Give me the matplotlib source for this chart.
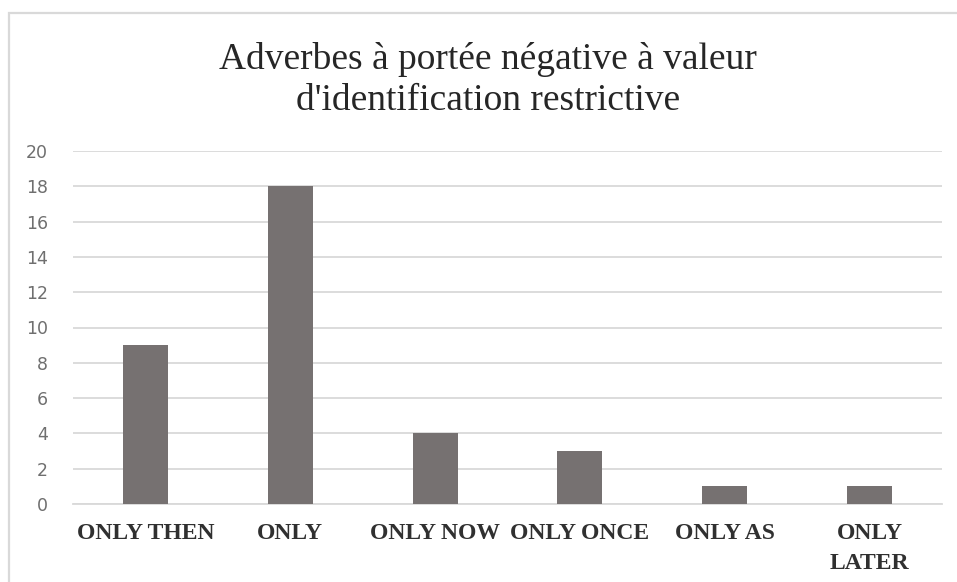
import matplotlib
matplotlib.use("Agg")
import matplotlib.pyplot as plt
from matplotlib.patches import Rectangle

categories = ["ONLY THEN", "ONLY", "ONLY NOW", "ONLY ONCE", "ONLY AS", "ONLY\nLATER"]
values = [9, 18, 4, 3, 1, 1]
yticks = [0, 2, 4, 6, 8, 10, 12, 14, 16, 18, 20]
title_lines = ["Adverbes à portée négative à valeur", "d'identification restrictive"]

W, H = 957, 582
fig = plt.figure(figsize=(W / 100, H / 100), dpi=100)
fig.patches.append(Rectangle((9 / W, -0.1), 1.2, 1 - 13 / H + 0.1, transform=fig.transFigure,
                             fill=False, edgecolor="#d9d9d9", linewidth=1.6))

ax = fig.add_axes([73 / W, (H - 504) / H, (942 - 73) / W, (504 - 151) / H])
x = list(range(len(categories)))
ax.bar(x, values, width=0.31, color="#767171", zorder=3)
ax.set_xlim(-0.5, len(categories) - 0.5)
ax.set_ylim(0, 20)
ax.set_yticks(yticks)
ax.set_yticklabels([str(t) for t in yticks], fontsize=12.5, color="#6f6f6f", family="DejaVu Sans")
ax.set_xticks(x)
ax.set_xticklabels(categories, fontsize=17, family="Liberation Serif", color="#303030",
                   linespacing=1.55, fontweight="bold")
ax.tick_params(axis="both", length=0)
ax.tick_params(axis="x", pad=14)
ax.tick_params(axis="y", pad=18)
ax.yaxis.grid(True, color="#d9d9d9", linewidth=1.3, zorder=0)
for s in ["top", "right", "left"]:
    ax.spines[s].set_visible(False)
ax.spines["bottom"].set_color("#d9d9d9")
ax.spines["bottom"].set_linewidth(1.3)

fig.text(488 / W, 1 - 69 / H, title_lines[0], ha="center", va="baseline", fontsize=27,
         family="Liberation Serif", color="#262626")
fig.text(488 / W, 1 - 110 / H, title_lines[1], ha="center", va="baseline", fontsize=27,
         family="Liberation Serif", color="#262626")

fig.savefig("out.png", dpi=100)
